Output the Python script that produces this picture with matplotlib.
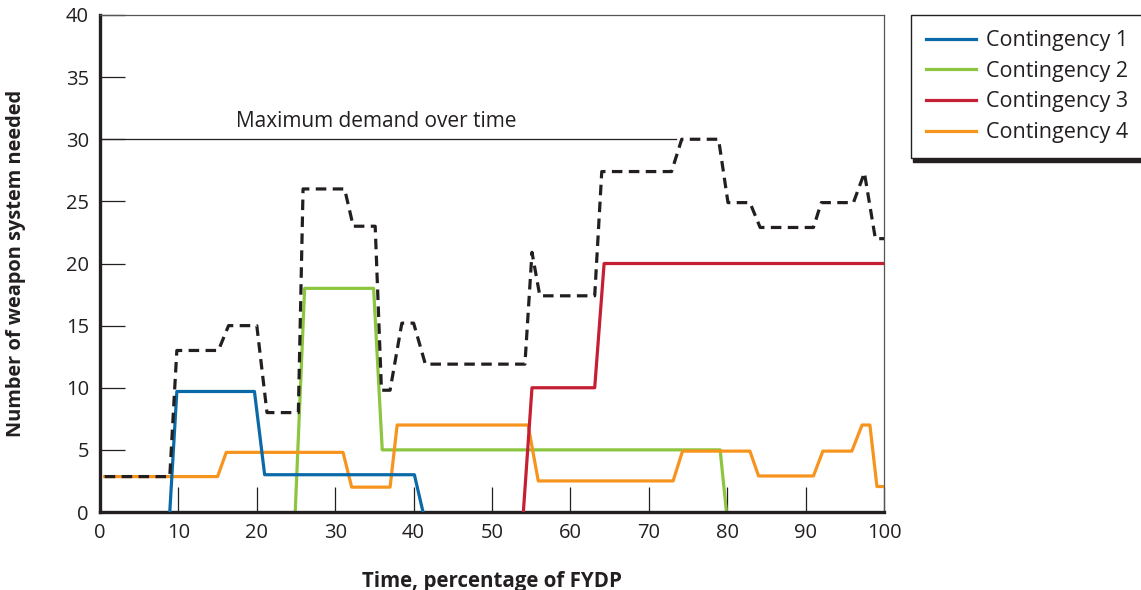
import matplotlib.pyplot as plt

plt.rcParams['font.family'] = ['Open Sans', 'DejaVu Sans']

# data
c1_x = [8.9, 9.8, 19.7, 21.0, 40.1, 41.2]
c1_y = [0, 9.7, 9.7, 3.0, 3.0, 0]

c2_x = [24.9, 26.1, 34.9, 36.0, 79.1, 79.9]
c2_y = [0, 18, 18, 5, 5, 0]

c3_x = [54.0, 55.1, 63.1, 64.3, 100]
c3_y = [0, 10, 10, 20, 20]

c4_x = [0.6, 15.0, 16.1, 31.0, 32.1, 37.0, 37.9, 54.6, 55.9, 73.1, 74.3,
        82.9, 84.0, 91.0, 92.2, 95.9, 97.2, 98.2, 99.1, 100]
c4_y = [2.85, 2.85, 4.8, 4.8, 2.0, 2.0, 7.0, 7.0, 2.5, 2.5, 4.9,
        4.9, 2.9, 2.9, 4.9, 4.9, 7.0, 7.0, 2.05, 2.05]

max_x = [0.6, 8.9, 9.8, 15.1, 16.4, 20.0, 21.3, 25.3, 25.9, 31.2, 32.3,
         35.1, 35.9, 37.0, 38.5, 40.0, 41.5, 54.2, 55.1, 56.1, 63.1, 64.0,
         72.9, 74.2, 78.9, 80.1, 82.9, 84.2, 91.0, 92.0, 96.1, 97.5, 98.9, 100]
max_y = [2.85, 2.85, 13, 13, 15, 15, 8, 8, 26, 26, 23,
         23, 9.8, 9.8, 15.2, 15.2, 11.9, 11.9, 20.9, 17.4, 17.4, 27.4,
         27.4, 30, 30, 24.9, 24.9, 22.9, 22.9, 24.9, 24.9, 27.3, 22, 22]

max_level = 30
max_level_end = 73.5

labels = ['Contingency 1', 'Contingency 2', 'Contingency 3', 'Contingency 4']
colors = ['#0a6aa8', '#8cc63f', '#c51f33', '#f7941d']

fig = plt.figure(figsize=(11.41, 5.90), dpi=100)
ax = fig.add_axes([100 / 1141, 1 - 512 / 590, 784 / 1141, 497 / 590])

lw = 2.3
h1, = ax.plot(c1_x, c1_y, color=colors[0], lw=lw, zorder=4, label=labels[0])
h2, = ax.plot(c2_x, c2_y, color=colors[1], lw=lw, zorder=2, label=labels[1])
h3, = ax.plot(c3_x, c3_y, color=colors[2], lw=lw, zorder=4, label=labels[2])
h4, = ax.plot(c4_x, c4_y, color=colors[3], lw=lw, zorder=3, label=labels[3])
ax.plot(max_x, max_y, color='#231f20', lw=2.3, ls=(0, (3.3, 2)), zorder=5)

# maximum demand reference line
ax.plot([0, max_level_end], [max_level, max_level], color='#231f20', lw=0.9, zorder=1)
ax.text(35.2, 31.4, 'Maximum demand over time', ha='center', va='center',
        fontsize=15, color='#231f20')

ax.set_xlim(0, 100)
ax.set_ylim(0, 40)
ax.set_xticks(range(0, 101, 10))
ax.set_yticks(range(0, 41, 5))
ax.tick_params(direction='in', length=18, width=0.9, color='#231f20',
               labelsize=14.5, labelcolor='#231f20', pad=8)

for s in ['left', 'bottom']:
    ax.spines[s].set_linewidth(2.4)
    ax.spines[s].set_color('#231f20')
for s in ['top', 'right']:
    ax.spines[s].set_linewidth(0.9)
    ax.spines[s].set_color('#555555')

ax.set_xlabel('Time, percentage of FYDP', fontsize=14.8, fontweight='bold', color='#231f20')
ax.set_ylabel('Number of weapon system needed', fontsize=14.4, fontweight='bold', color='#231f20')
ax.xaxis.set_label_coords(0.5, -0.118)
ax.yaxis.set_label_coords(-0.094, 0.5)

leg = fig.legend(handles=[h1, h2, h3, h4], loc='upper left',
                 bbox_to_anchor=(911 / 1141, 1 - 15 / 590), fontsize=15.5,
                 frameon=True, fancybox=False, edgecolor='#231f20',
                 shadow={'color': '#231f20', 'alpha': 1.0, 'ox': 1.5, 'oy': -2.5},
                 handlelength=2.3, handletextpad=0.5, labelspacing=0.45,
                 borderpad=0.7, borderaxespad=0)
leg.get_frame().set_linewidth(1.0)
for t in leg.get_texts():
    t.set_color('#231f20')

fig.savefig('out.png', dpi=100)
